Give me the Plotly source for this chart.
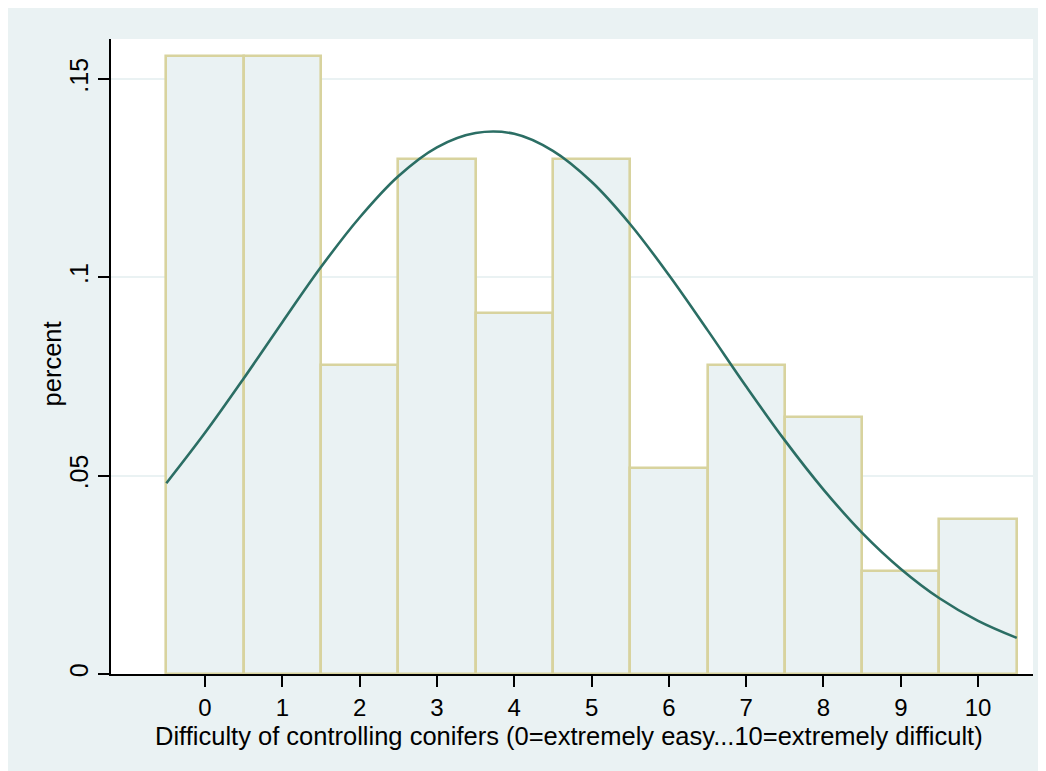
import plotly.graph_objects as go

# Histogram data (fraction of respondents per rating)
categories = [0, 1, 2, 3, 4, 5, 6, 7, 8, 9, 10]
fractions = [0.1558, 0.1558, 0.0779, 0.1299, 0.0909, 0.1299, 0.0519, 0.0779, 0.0649, 0.0260, 0.0390]

# Normal density overlay, read at half-unit steps
curve_x = [-0.5, 0, 0.5, 1, 1.5, 2, 2.5, 3, 3.5, 4, 4.5, 5, 5.5, 6, 6.5, 7, 7.5, 8, 8.5, 9, 9.5, 10, 10.5]
curve_y = [0.0481, 0.0608, 0.0745, 0.0887, 0.1026, 0.1151, 0.1255, 0.1328, 0.1364, 0.1362, 0.1319,
           0.1241, 0.1134, 0.1006, 0.0867, 0.0725, 0.0589, 0.0465, 0.0356, 0.0265, 0.0191, 0.0134, 0.0091]

y_ticks = [0, 0.05, 0.1, 0.15]
y_tick_labels = ["0", ".05", ".1", ".15"]

x_title = "Difficulty of controlling conifers (0=extremely easy...10=extremely difficult)"
y_title = "percent"

BG = "#EAF2F3"
FONT = "Liberation Sans, Arial, sans-serif"

fig = go.Figure()
fig.add_trace(go.Bar(
    x=categories, y=fractions, width=1.0,
    marker=dict(color=BG, line=dict(color="#D8D39E", width=2.6)),
    showlegend=False, hoverinfo="skip",
))
fig.add_trace(go.Scatter(
    x=curve_x, y=curve_y, mode="lines",
    line=dict(color="#2B6E64", width=2.6, shape="spline", smoothing=1.0),
    showlegend=False,
))

fig.add_annotation(text=x_title, xref="paper", yref="paper", x=0.497, y=-0.0976,
                   xanchor="center", yanchor="middle", showarrow=False,
                   font=dict(size=25.5))
fig.add_annotation(text=y_title, xref="paper", yref="paper", x=-0.064, y=0.489,
                   xanchor="center", yanchor="middle", showarrow=False, textangle=-90,
                   font=dict(size=25.5))

fig.update_layout(
    width=1046, height=771,
    margin=dict(l=103, r=21, t=31, b=105),
    paper_bgcolor=BG, plot_bgcolor="white",
    bargap=0,
    font=dict(family=FONT, size=24, color="black"),
    xaxis=dict(
        range=[-1.216, 10.71], tickmode="array", tickvals=categories,
        ticktext=[str(c) for c in categories],
        showline=True, linecolor="black", linewidth=2,
        ticks="outside", ticklen=11, tickcolor="black", tickwidth=2,
        showgrid=False, zeroline=False, tickfont=dict(size=24),
    ),
    yaxis=dict(
        range=[0, 0.1601], tickmode="array", tickvals=y_ticks, ticktext=y_tick_labels,
        tickangle=-90,
        showline=True, linecolor="black", linewidth=2,
        ticks="outside", ticklen=11, tickcolor="black", tickwidth=2,
        showgrid=True, gridcolor=BG, gridwidth=2, zeroline=False, tickfont=dict(size=25),
    ),
)

fig.write_html("out.html")
